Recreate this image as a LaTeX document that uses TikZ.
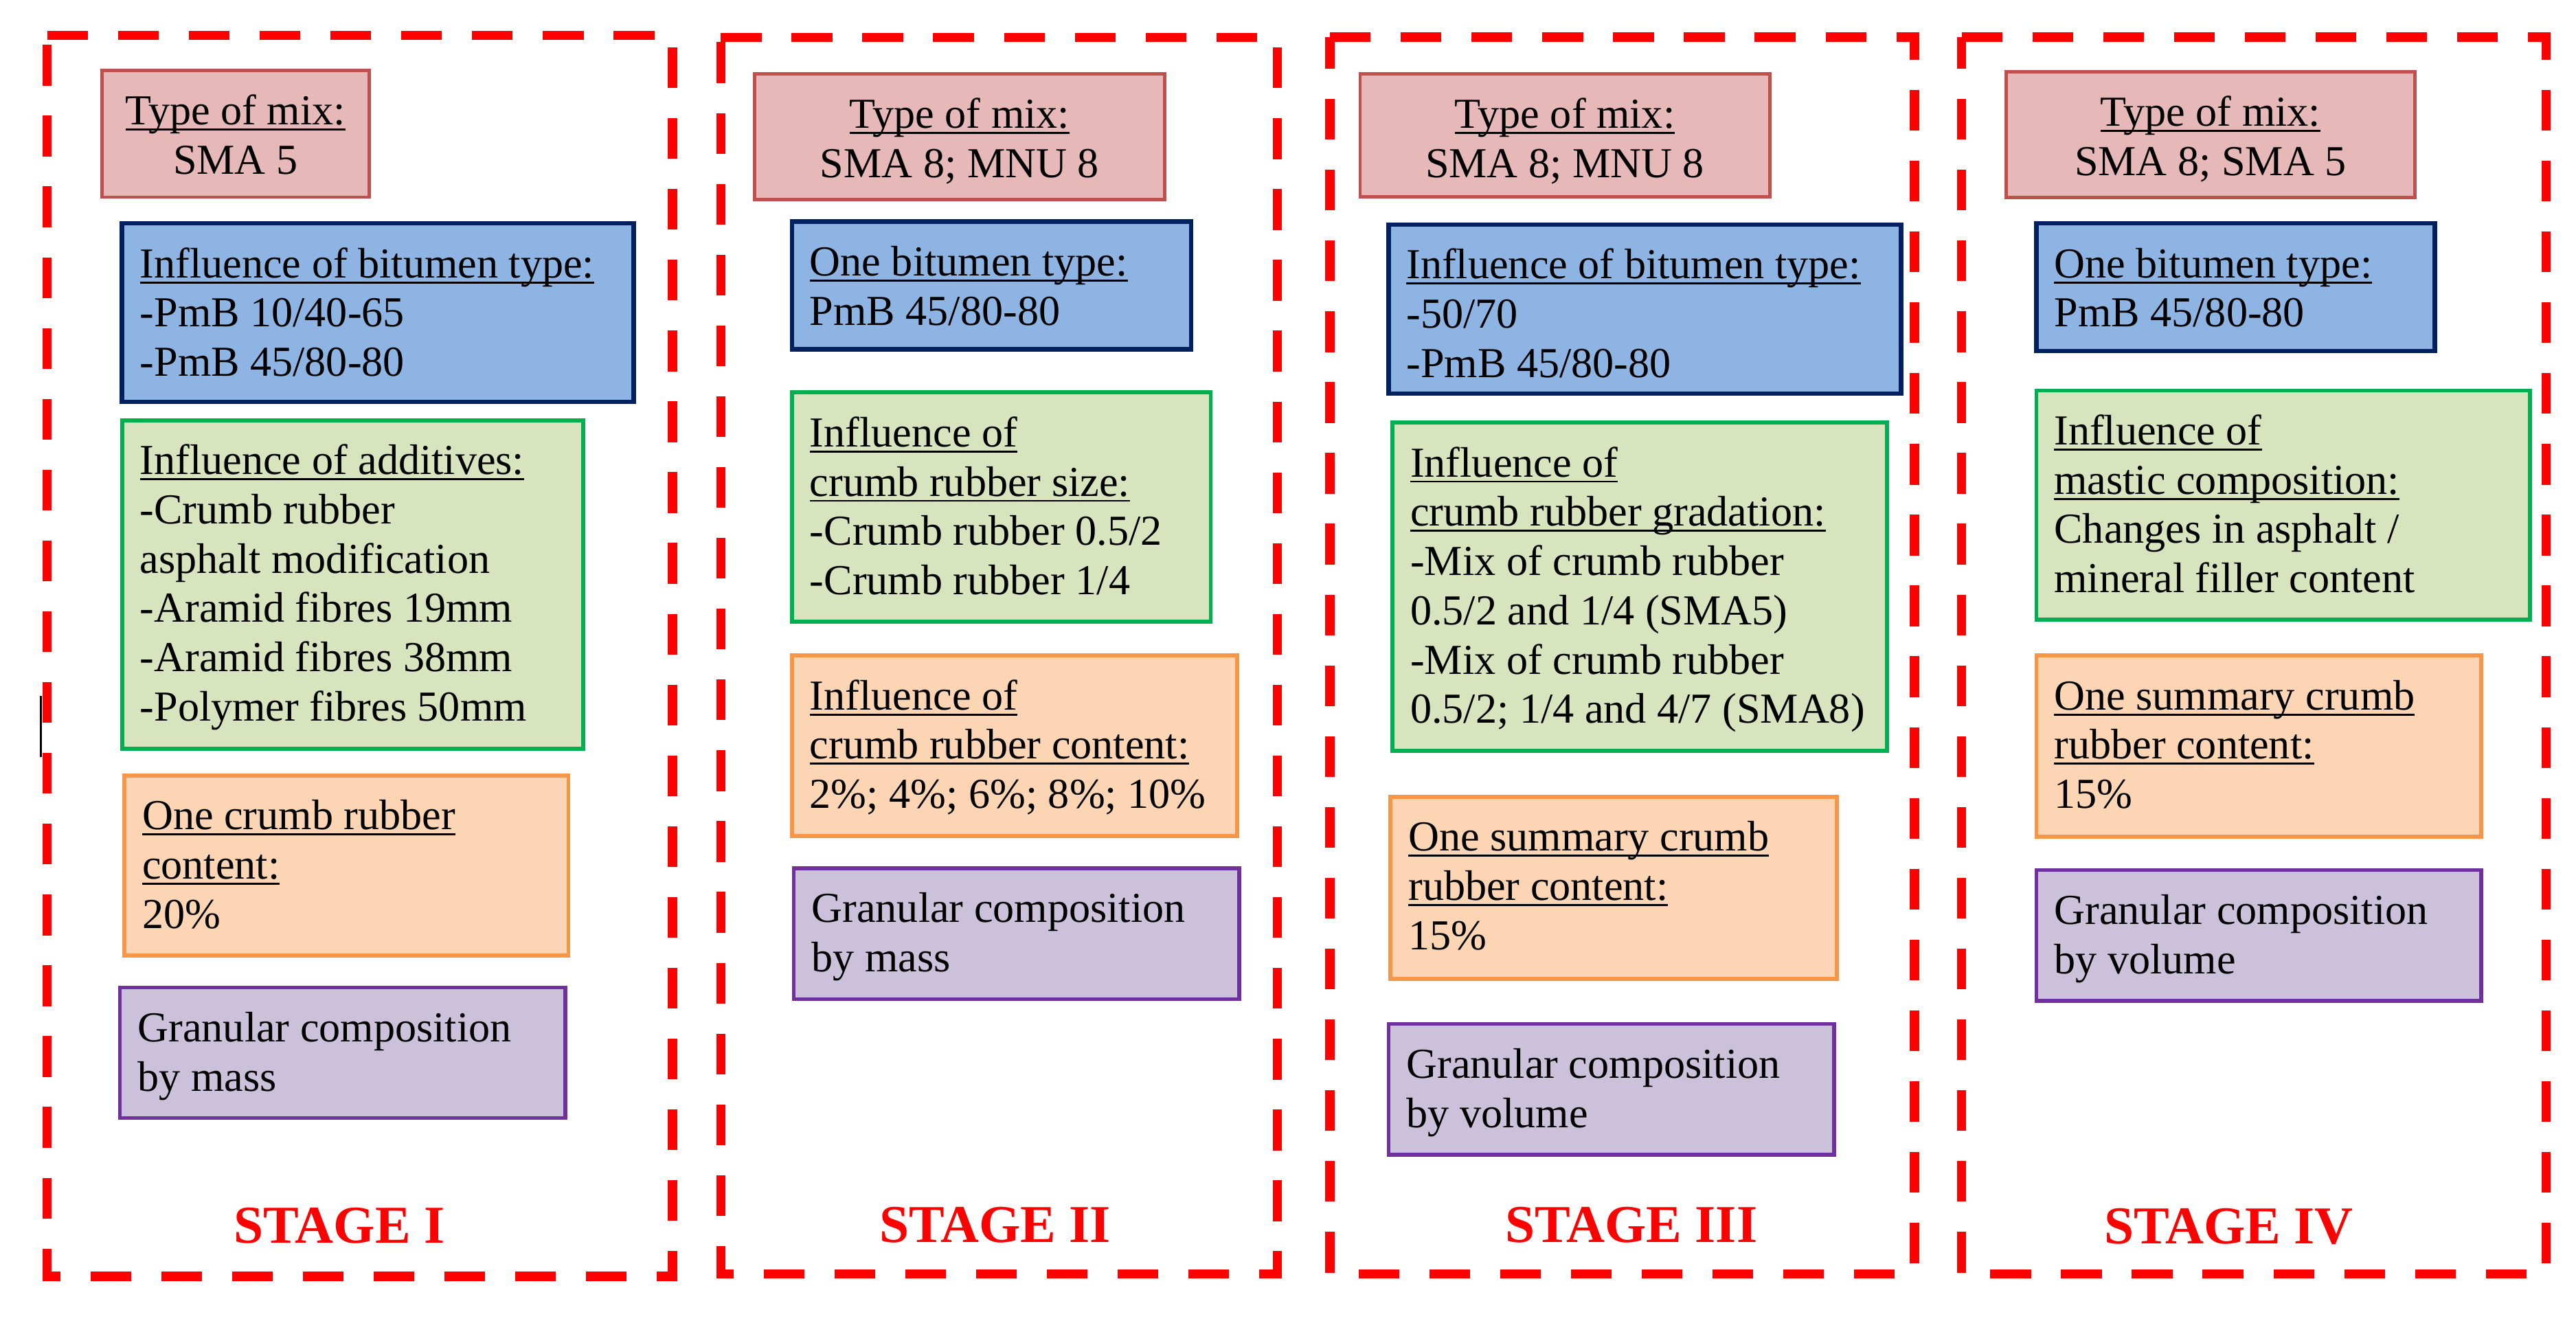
\documentclass[tikz,border=0pt]{standalone}
\usepackage{fontspec}
\setmainfont{Liberation Serif}
\definecolor{mixfill}{HTML}{E6B9B8}
\definecolor{mixdraw}{HTML}{C0504D}
\definecolor{bitfill}{HTML}{8EB4E3}
\definecolor{bitdraw}{HTML}{002060}
\definecolor{grnfill}{HTML}{D7E4BD}
\definecolor{grndraw}{HTML}{00B050}
\definecolor{orgfill}{HTML}{FCD5B5}
\definecolor{orgdraw}{HTML}{F79646}
\definecolor{purfill}{HTML}{CCC1DA}
\definecolor{purdraw}{HTML}{7030A0}
\definecolor{stagered}{HTML}{FF0000}
\newsavebox\ulbox
\newcommand\undl[1]{\sbox\ulbox{#1}\rlap{\rule[-1.75pt]{\wd\ulbox}{0.6pt}}\usebox\ulbox}
\tikzset{
  boxbase/.style={draw, anchor=north west, inner sep=0pt, outer sep=0pt},
  mixbox/.style={boxbase, fill=mixfill, draw=mixdraw, line width=1pt},
  bitbox/.style={boxbase, fill=bitfill, draw=bitdraw, line width=1.35pt},
  grnbox/.style={boxbase, fill=grnfill, draw=grndraw, line width=1.2pt},
  orgbox/.style={boxbase, fill=orgfill, draw=orgdraw, line width=1.2pt},
  purbox/.style={boxbase, fill=purfill, draw=purdraw, line width=1.2pt},
  txt/.style={inner sep=0pt, anchor=base west, font=\fontsize{13pt}{15pt}\selectfont},
  ctxt/.style={inner sep=0pt, anchor=base, font=\fontsize{13pt}{15pt}\selectfont},
  frame/.style={draw=stagered, line width=2.8pt, dash pattern=on 12.4pt off 9.15pt},
  stagelbl/.style={inner sep=0pt, anchor=base, text=stagered, font=\fontsize{16.2pt}{18pt}\selectfont\bfseries}
}
% name, style, x1, y1, x2, y2, text
\newcommand\bx[7]{%
  \pgfmathsetmacro\bxw{(#5-#3-2)*0.5}%
  \pgfmathsetmacro\bxh{(#6-#4-2)*0.5}%
  \node[#2, minimum width=\bxw pt, minimum height=\bxh pt] (#1) at (#3+1,#4+1) {};
  \node[txt] (#1t) at ([shift={(5.25pt,-16.5pt)}]#1.north west) {\begin{tabular}[t]{@{}l@{}}#7\end{tabular}};
}
\newcommand\mixbx[6]{%
  \pgfmathsetmacro\bxw{(#4-#2-2)*0.5}%
  \pgfmathsetmacro\bxh{(#5-#3-2)*0.5}%
  \node[mixbox, minimum width=\bxw pt, minimum height=\bxh pt] (#1) at (#2+1,#3+1) {};
  \node[ctxt] (#1t) at ([yshift=-16.5pt]#1.north) {\begin{tabular}[t]{@{}c@{}}#6\end{tabular}};
}
\begin{document}
\begin{tikzpicture}[x=0.5pt,y=-0.5pt]
\useasboundingbox (0,0) rectangle (1568,804);
% stage frames
\draw[frame] (28.7,21.5) -- (409.3,21.5) -- (409.3,776.8) -- (28.7,776.8) -- cycle;
\draw[frame] (438.7,22.9) -- (777.5,22.9) -- (777.5,775.4) -- (438.7,775.4) -- cycle;
\draw[frame] (809.5,22.6) -- (1165.3,22.6) -- (1165.3,775.5) -- (809.5,775.5) -- cycle;
\draw[frame] (1194,22.6) -- (1549.8,22.6) -- (1549.8,775.5) -- (1194,775.5) -- cycle;
% stray mark
\coordinate (ma) at (25,423.7);
\coordinate (mb) at (25,460.9);
\draw[line width=0.55pt] (ma) -- (mb);

% STAGE I
\mixbx{mixA}{61}{42}{225.6}{121}{\undl{Type of mix:}\\SMA 5}
\bx{bitA}{bitbox}{73.3}{135}{386.7}{245.5}{\undl{Influence of bitumen type:}\\-PmB 10/40-65\\-PmB 45/80-80}
\bx{grnA}{grnbox}{73.3}{254.8}{356}{456.8}{\undl{Influence of additives:}\\-Crumb rubber\\asphalt modification\\-Aramid fibres 19mm\\-Aramid fibres 38mm\\-Polymer fibres 50mm}
\bx{orgA}{orgbox}{74.7}{471}{347}{582.5}{\undl{One crumb rubber}\\\undl{content:}\\20\%}
\bx{purA}{purbox}{72}{600}{345}{681.5}{Granular composition\\by mass}
\node[stagelbl] (lblA) at (206.6,756.5) {STAGE I};

% STAGE II
\mixbx{mixB}{458.4}{44}{709.8}{122.6}{\undl{Type of mix:}\\SMA 8; MNU 8}
\bx{bitB}{bitbox}{481}{133.8}{726}{213.7}{\undl{One bitumen type:}\\PmB 45/80-80}
\bx{grnB}{grnbox}{481}{237.9}{737.9}{379.5}{\undl{Influence of}\\\undl{crumb rubber size:}\\-Crumb rubber 0.5/2\\-Crumb rubber 1/4}
\bx{orgB}{orgbox}{481}{398}{754}{510}{\undl{Influence of}\\\undl{crumb rubber content:}\\2\%; 4\%; 6\%; 8\%; 10\%}
\bx{purB}{purbox}{482.2}{527.5}{755.2}{609.2}{Granular composition\\by mass}
\node[stagelbl] (lblB) at (605.8,756) {STAGE II};

% STAGE III
\mixbx{mixC}{826.9}{44}{1078.2}{120.9}{\undl{Type of mix:}\\SMA 8; MNU 8}
\bx{bitC}{bitbox}{844.2}{135.7}{1158.1}{240.6}{\undl{Influence of bitumen type:}\\-50/70\\-PmB 45/80-80}
\bx{grnC}{grnbox}{846.6}{256.2}{1149.5}{458.1}{\undl{Influence of}\\\undl{crumb rubber gradation:}\\-Mix of crumb rubber\\0.5/2 and 1/4 (SMA5)\\-Mix of crumb rubber\\0.5/2; 1/4 and 4/7 (SMA8)}
\bx{orgC}{orgbox}{845.4}{484}{1119}{596.8}{\undl{One summary crumb}\\\undl{rubber content:}\\15\%}
\bx{purC}{purbox}{844.2}{622.2}{1117.3}{703.8}{Granular composition\\by volume}
\node[stagelbl] (lblC) at (993,756.3) {STAGE III};

% STAGE IV
\mixbx{mixD}{1220}{42.7}{1471}{121.3}{\undl{Type of mix:}\\SMA 8; SMA 5}
\bx{bitD}{bitbox}{1238.5}{135}{1483}{214.6}{\undl{One bitumen type:}\\PmB 45/80-80}
\bx{grnD}{grnbox}{1238.5}{236.7}{1540.9}{378.3}{\undl{Influence of}\\\undl{mastic composition:}\\Changes in asphalt /\\mineral filler content}
\bx{orgD}{orgbox}{1238.5}{398}{1511.4}{510.2}{\undl{One summary crumb}\\\undl{rubber content:}\\15\%}
\bx{purD}{purbox}{1238.5}{528.5}{1511.4}{610.2}{Granular composition\\by volume}
\node[stagelbl] (lblD) at (1356.7,757) {STAGE IV};
\end{tikzpicture}
\end{document}
